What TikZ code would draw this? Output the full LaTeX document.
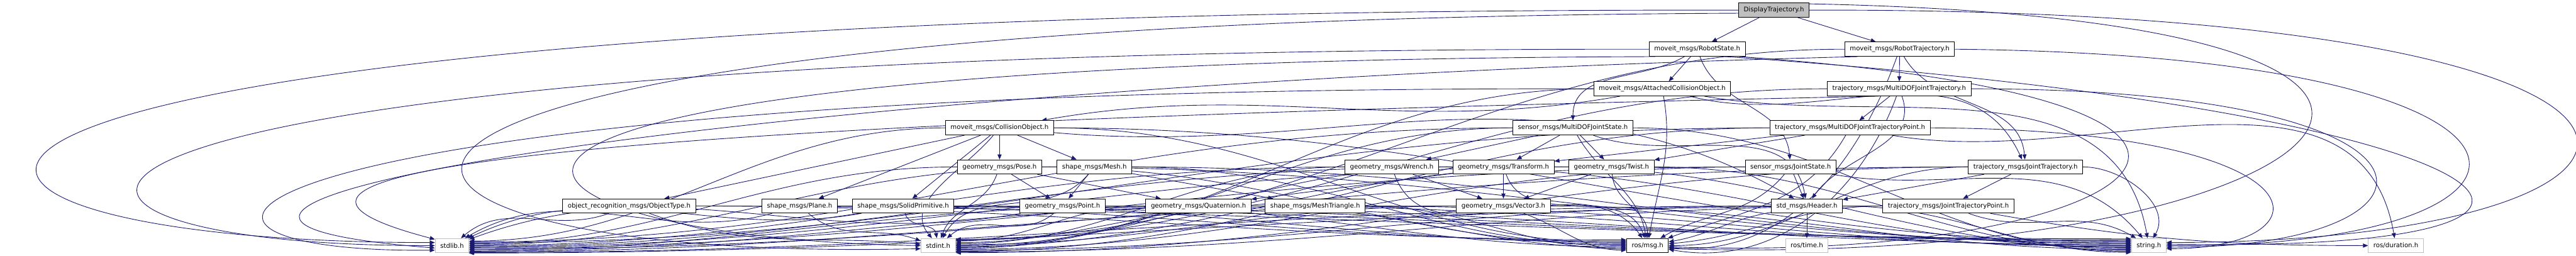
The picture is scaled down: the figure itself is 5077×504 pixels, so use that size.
\documentclass[tikz,border=0pt]{standalone}
\usepackage{fontspec}
\setmainfont{DejaVu Sans}
\usepackage{xcolor}
\usepackage{tikz}
\usetikzlibrary{arrows.meta,backgrounds}
\definecolor{IncBlue}{HTML}{191970}
\definecolor{NodeGray}{HTML}{BFBFBF}

\begin{document}
\begin{tikzpicture}[
  x=0.1pt,y=-0.1pt,
  font=\fontsize{1.26}{1.4}\selectfont,
  file/.style={draw=black,line width=0.12pt,fill=white,minimum height=2.8pt,inner xsep=1pt,inner ysep=0pt},
  sysfile/.style={file,draw=NodeGray},
  rootfile/.style={file,fill=NodeGray},
  inc/.style={-{Triangle[length=1pt,width=0.8pt]},draw=IncBlue,line width=0.11pt}
]
  \useasboundingbox (0,0) rectangle (5077,504);
  % message headers
  \node[rootfile] (dispTraj) at (3496,20) {DisplayTrajectory.h};
  \node[file] (robotState) at (3345,97) {moveit\_msgs/RobotState.h};
  \node[file] (robotTraj) at (3744,97) {moveit\_msgs/RobotTrajectory.h};
  \node[file] (attCollObj) at (3276,175) {moveit\_msgs/AttachedCollisionObject.h};
  \node[file] (mdofTraj) at (3743,175) {trajectory\_msgs/MultiDOFJointTrajectory.h};
  \node[file] (collObj) at (1970,252) {moveit\_msgs/CollisionObject.h};
  \node[file] (mdofState) at (3100,252) {sensor\_msgs/MultiDOFJointState.h};
  \node[file] (mdofPoint) at (3646,252) {trajectory\_msgs/MultiDOFJointTrajectoryPoint.h};
  \node[file] (pose) at (1970,329) {geometry\_msgs/Pose.h};
  \node[file] (mesh) at (2157,329) {shape\_msgs/Mesh.h};
  \node[file] (wrench) at (2743,329) {geometry\_msgs/Wrench.h};
  \node[file] (transform) at (2963,329) {geometry\_msgs/Transform.h};
  \node[file] (twist) at (3176,329) {geometry\_msgs/Twist.h};
  \node[file] (jointState) at (3529,329) {sensor\_msgs/JointState.h};
  \node[file] (jointTraj) at (3992,329) {trajectory\_msgs/JointTrajectory.h};
  \node[file] (objType) at (1240,406) {object\_recognition\_msgs/ObjectType.h};
  \node[file] (plane) at (1576,406) {shape\_msgs/Plane.h};
  \node[file] (solidPrim) at (1780,406) {shape\_msgs/SolidPrimitive.h};
  \node[file] (point) at (2094,406) {geometry\_msgs/Point.h};
  \node[file] (quaternion) at (2362,406) {geometry\_msgs/Quaternion.h};
  \node[file] (meshTri) at (2592,406) {shape\_msgs/MeshTriangle.h};
  \node[file] (vector3) at (2963,406) {geometry\_msgs/Vector3.h};
  \node[file] (header) at (3561,406) {std\_msgs/Header.h};
  \node[file] (jointPoint) at (3840,406) {trajectory\_msgs/JointTrajectoryPoint.h};
  % system headers
  \node[sysfile] (stdlib) at (891,484) {stdlib.h};
  \node[sysfile] (stdint) at (1849,484) {stdint.h};
  \node[file] (rosmsg) at (3247,484) {ros/msg.h};
  \node[sysfile] (rostime) at (3561,484) {ros/time.h};
  \node[sysfile] (stringh) at (4235,484) {string.h};
  \node[sysfile] (rosduration) at (4722,484) {ros/duration.h};

  \begin{scope}[on background layer]
  % message to message
  \draw[inc] (dispTraj) -- (robotState);
  \draw[inc] (dispTraj) -- (robotTraj);
  \draw[inc] (robotState) -- (attCollObj);
  \draw[inc] (robotState) to[out=-150,in=90] (mdofState);
  \draw[inc] (robotState) to[out=-70,in=95] (jointState);
  \draw[inc] (robotTraj) -- (mdofTraj);
  \draw[inc] (robotTraj) to[out=-60,in=95] (jointTraj);
  \draw[inc] (attCollObj) to[out=190,in=10] (collObj);
  \draw[inc] (attCollObj) to[out=-15,in=115] (jointTraj);
  \draw[inc] (mdofTraj) -- (mdofPoint);
  \draw[inc] (mdofTraj) to[out=-70,in=55] (header);
  \draw[inc] (collObj) -- (pose);
  \draw[inc] (collObj) -- (mesh);
  \draw[inc] (collObj) -- (plane);
  \draw[inc] (collObj) -- (solidPrim);
  \draw[inc] (collObj) -- (objType);
  \draw[inc] (collObj) to[out=-5,in=150] (header);
  \draw[inc] (mdofState) -- (wrench);
  \draw[inc] (mdofState) -- (transform);
  \draw[inc] (mdofState) -- (twist);
  \draw[inc] (mdofState) to[out=-20,in=100] (header);
  \draw[inc] (mdofPoint) -- (transform);
  \draw[inc] (mdofPoint) -- (twist);
  \draw[inc] (mdofPoint) to[out=-10,in=100] (rosduration);
  \draw[inc] (pose) -- (point);
  \draw[inc] (pose) -- (quaternion);
  \draw[inc] (mesh) -- (point);
  \draw[inc] (mesh) -- (meshTri);
  \draw[inc] (wrench) -- (vector3);
  \draw[inc] (transform) -- (vector3);
  \draw[inc] (transform) -- (quaternion);
  \draw[inc] (twist) -- (vector3);
  \draw[inc] (jointState) -- (header);
  \draw[inc] (jointTraj) -- (header);
  \draw[inc] (jointTraj) -- (jointPoint);
  \draw[inc] (jointPoint) to[out=-10,in=180] (rosduration);
  \draw[inc] (header) -- (rostime);

  % stdlib.h
  \draw[inc] (dispTraj.west) .. controls (-500,15) and (-420,478) .. (stdlib.170);
  \draw[inc] (robotState.west) .. controls (-150,95) and (-150,486) .. (stdlib.west);
  \draw[inc] (robotTraj.190) .. controls (1400,170) and (-20,420) .. (stdlib.188);
  \draw[inc] (attCollObj.west) .. controls (400,170) and (150,500) .. (stdlib.195);
  \draw[inc] (mdofTraj.200) .. controls (1800,230) and (200,300) .. (stdlib.160);
  \foreach \s/\a in {collObj/15,mdofState/12,mdofPoint/9,pose/6,mesh/3,wrench/0,transform/-3,twist/-6,
    jointState/-9,jointTraj/-12,quaternion/-15,meshTri/-18,vector3/-20,header/-22,jointPoint/-24}
    \draw[inc] (\s) to[out=180,in=0] (stdlib.\a);
  \foreach \s/\o/\a in {objType/-160/40,plane/-165/30,solidPrim/-170/25,point/-170/20}
    \draw[inc] (\s) to[out=\o,in=\a] (stdlib.\a);

  % stdint.h
  \draw[inc] (dispTraj.185) .. controls (300,40) and (500,520) .. (stdint.190);
  \draw[inc] (robotState.190) .. controls (500,120) and (900,470) .. (stdint.west);
  \draw[inc] (objType) to[out=-20,in=175] (stdint.175);
  \draw[inc] (plane) to[out=-40,in=160] (stdint.165);
  \foreach \s/\o/\a in {solidPrim/-75/100,collObj/-130/130,pose/-110/70,mesh/-130/60,point/-140/40}
    \draw[inc] (\s) to[out=\o,in=\a] (stdint.\a);
  \foreach \s/\a in {robotTraj/20,mdofTraj/18,quaternion/15,meshTri/10,wrench/6,vector3/3,transform/0,twist/-3,
    mdofState/-6,attCollObj/-9,jointState/-12,header/-15,mdofPoint/-18,jointPoint/-20,jointTraj/-22}
    \draw[inc] (\s) to[out=180,in=0] (stdint.\a);

  % ros/msg.h
  \foreach \s/\a in {objType/165,plane/168,solidPrim/171,collObj/174,pose/177,mesh/180,point/183,
    quaternion/186,meshTri/189}
    \draw[inc] (\s) to[out=0,in=180] (rosmsg.\a);
  \draw[inc] (vector3) to[out=-20,in=180] (rosmsg.192);
  \foreach \s/\o/\a in {wrench/-70/125,transform/-70/110,mdofState/-60/100,twist/-85/90,attCollObj/-80/80,
    jointState/-130/30,mdofPoint/-120/20,header/-170/10,jointPoint/180/5,
    jointTraj/180/0,robotTraj/-110/-5,mdofTraj/-110/-10}
    \draw[inc] (\s) to[out=\o,in=\a] (rosmsg.\a);
  \draw[inc] (dispTraj.10) .. controls (5200,40) and (4600,530) .. (rosmsg.-8);
  \draw[inc] (robotState.-10) .. controls (4700,200) and (4200,520) .. (rosmsg.-3);

  % string.h
  \foreach \s/\a in {objType/159,plane/162,solidPrim/165,collObj/168,pose/171,mesh/174,point/177,
    quaternion/180,meshTri/183,wrench/186,transform/189,vector3/192,twist/195,mdofState/198,header/201}
    \draw[inc] (\s) to[out=0,in=180] (stringh.\a);
  \foreach \s/\o/\a in {jointState/-10/130,jointPoint/-20/150,attCollObj/-10/100,jointTraj/0/60}
    \draw[inc] (\s) to[out=\o,in=\a] (stringh.\a);
  \draw[inc] (dispTraj.east) .. controls (5500,15) and (5400,478) .. (stringh.10);
  \draw[inc] (robotState.-15) .. controls (5000,220) and (5300,500) .. (stringh.5);
  \draw[inc] (robotTraj.east) .. controls (5150,110) and (5100,490) .. (stringh.0);
  \draw[inc] (mdofTraj.east) .. controls (4900,175) and (4850,490) .. (stringh.-5);
  \draw[inc] (mdofPoint.east) .. controls (4600,255) and (4600,490) .. (stringh.-10);
  \end{scope}
\end{tikzpicture}
\end{document}
